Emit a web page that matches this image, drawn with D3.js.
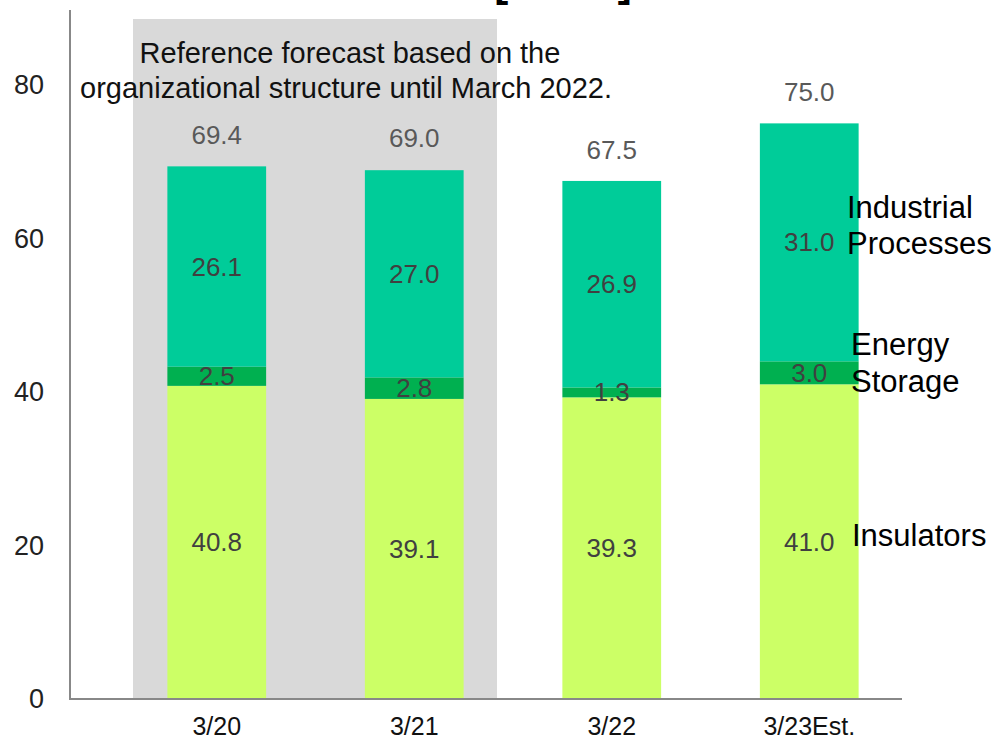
<!DOCTYPE html>
<html>
<head>
<meta charset="utf-8">
<script src="https://cdn.jsdelivr.net/npm/d3@7"></script>
<style>
  body { margin: 0; background: #fff; }
  svg { font-family: "Liberation Sans", Arial, sans-serif; }
</style>
</head>
<body>
<div id="chart"></div>
<script>
var years = ["3/20", "3/21", "3/22", "3/23Est."];
var insulators = [40.8, 39.1, 39.3, 41.0];
var energyStorage = [2.5, 2.8, 1.3, 3.0];
var industrial = [26.1, 27.0, 26.9, 31.0];
var totals = [69.4, 69.0, 67.5, 75.0];
var yTicks = [0, 20, 40, 60, 80];
var seriesNames = ["Insulators", "Energy Storage", "Industrial Processes"];
var colors = ["#ccff66", "#00b050", "#00cc99"];

var width = 994, height = 741;

var svg = d3.select("#chart").append("svg")
    .attr("width", width)
    .attr("height", height);

var x = d3.scaleBand()
    .domain(years)
    .range([118, 908])
    .paddingInner(0.5)
    .paddingOuter(0.25);

var y = d3.scaleLinear()
    .domain([0, 80])
    .range([699, 85]);

// grey box for the reference forecast
svg.append("rect")
    .attr("x", 133)
    .attr("y", 19)
    .attr("width", 364)
    .attr("height", y(0) - 19)
    .attr("fill", "#d9d9d9");

// title (cut off at top, as in the slide)
svg.append("text")
    .attr("x", 563)
    .attr("y", -4)
    .attr("text-anchor", "middle")
    .attr("font-size", 42)
    .attr("font-weight", "bold")
    .text("[Sales]");

var rows = years.map(function (d, i) {
    return { year: d, Insulators: insulators[i], "Energy Storage": energyStorage[i], "Industrial Processes": industrial[i] };
});
var stack = d3.stack().keys(seriesNames)(rows);

var g = svg.selectAll("g.layer")
    .data(stack)
    .enter().append("g")
    .attr("class", "layer")
    .attr("fill", function (d, i) { return colors[i]; });

g.selectAll("rect")
    .data(function (d) { return d; })
    .enter().append("rect")
    .attr("x", function (d) { return x(d.data.year); })
    .attr("y", function (d) { return y(d[1]); })
    .attr("width", x.bandwidth())
    .attr("height", function (d) { return y(d[0]) - y(d[1]); });

// segment labels
stack.forEach(function (layer) {
    svg.selectAll(null)
        .data(layer)
        .enter().append("text")
        .attr("x", function (d) { return x(d.data.year) + x.bandwidth() / 2; })
        .attr("y", function (d) { return y((d[0] + d[1]) / 2) + 9; })
        .attr("text-anchor", "middle")
        .attr("font-size", 26)
        .attr("fill", "#404040")
        .text(function (d) { return (d[1] - d[0]).toFixed(1); });
});

// totals
svg.selectAll(".total")
    .data(totals)
    .enter().append("text")
    .attr("class", "total")
    .attr("x", function (d, i) { return x(years[i]) + x.bandwidth() / 2; })
    .attr("y", function (d) { return y(d) - 22; })
    .attr("text-anchor", "middle")
    .attr("font-size", 26)
    .attr("fill", "#595959")
    .text(function (d) { return d.toFixed(1); });

// axes
svg.append("line")
    .attr("x1", 70).attr("x2", 70)
    .attr("y1", 10).attr("y2", y(0))
    .attr("stroke", "#888").attr("stroke-width", 2);
svg.append("line")
    .attr("x1", 69).attr("x2", 902)
    .attr("y1", y(0)).attr("y2", y(0))
    .attr("stroke", "#888").attr("stroke-width", 2);

svg.selectAll(".ytick")
    .data(yTicks)
    .enter().append("text")
    .attr("class", "ytick")
    .attr("x", 44)
    .attr("y", function (d) { return y(d) + 9; })
    .attr("text-anchor", "end")
    .attr("font-size", 27)
    .attr("fill", "#222")
    .text(function (d) { return d; });

svg.selectAll(".xtick")
    .data(years)
    .enter().append("text")
    .attr("class", "xtick")
    .attr("x", function (d) { return x(d) + x.bandwidth() / 2; })
    .attr("y", 735)
    .attr("text-anchor", "middle")
    .attr("font-size", 25)
    .attr("fill", "#111")
    .text(function (d) { return d; });

// note text
var note = svg.append("text")
    .attr("text-anchor", "middle")
    .attr("font-size", 29)
    .attr("fill", "#111");
note.append("tspan").attr("x", 350).attr("y", 63).text("Reference forecast based on the");
note.append("tspan").attr("x", 346).attr("y", 98).text("organizational structure until March 2022.");

// series labels on the right
var lab = svg.append("g").attr("font-size", 31).attr("fill", "#000");
var t1 = lab.append("text");
t1.append("tspan").attr("x", 847).attr("y", 218).text("Industrial");
t1.append("tspan").attr("x", 847).attr("y", 254).text("Processes");
var t2 = lab.append("text");
t2.append("tspan").attr("x", 851).attr("y", 355).text("Energy");
t2.append("tspan").attr("x", 851).attr("y", 392).text("Storage");
lab.append("text").attr("x", 852).attr("y", 546).text("Insulators");
</script>
</body>
</html>
